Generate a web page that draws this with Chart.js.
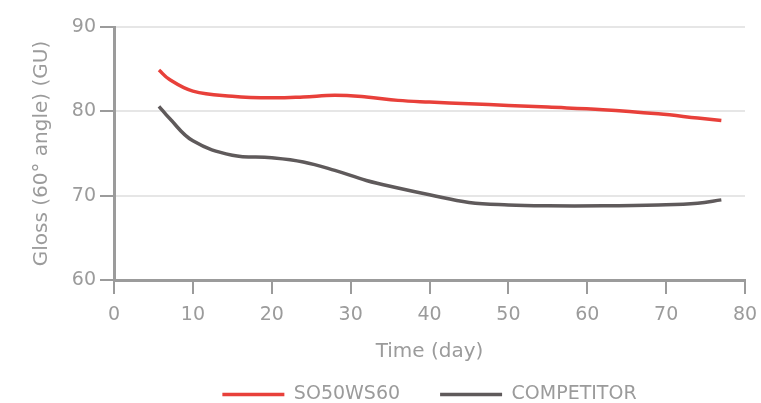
<!DOCTYPE html>
<html>
<head>
<meta charset="utf-8">
<script src="https://cdn.jsdelivr.net/npm/chart.js@4/dist/chart.umd.min.js"></script>
<style>
  html, body { margin: 0; padding: 0; background: #fff; }
  #wrap { width: 761px; height: 403px; position: relative; }
</style>
</head>
<body>
<div id="wrap"><canvas id="glossChart"></canvas></div>
<script>
// === Data ===
const days = [5.7, 7, 10, 15, 20, 24, 28, 32, 36, 40, 45, 50, 55, 62, 69, 74, 77];
const so50ws60 = [84.9, 83.8, 82.4, 81.8, 81.6, 81.7, 81.9, 81.7, 81.3, 81.1, 80.9, 80.7, 80.5, 80.2, 79.7, 79.2, 78.9];
const competitor = [80.6, 79.2, 76.5, 74.8, 74.5, 74.0, 73.0, 71.8, 70.9, 70.1, 69.2, 68.9, 68.8, 68.8, 68.9, 69.1, 69.5];
const seriesNames = ['SO50WS60', 'COMPETITOR'];
const xTitle = 'Time (day)';
const yTitle = 'Gloss (60° angle) (GU)';

const gray = '#9b9b9b';
const font = "'DejaVu Sans', sans-serif";

const toPoints = vals => vals.map((v, i) => ({ x: days[i], y: v }));

// legend sits low with wide gaps between items; keep its box short
const legendHeight = {
  id: 'legendHeight',
  afterInit(chart) {
    const legend = chart.legend;
    const fit = legend.fit;
    legend.fit = function () {
      fit.call(this);
      this.height = 58;
    };
  }
};

new Chart(document.getElementById('glossChart'), {
  type: 'line',
  data: {
    datasets: [
      {
        label: seriesNames[0],
        data: toPoints(so50ws60),
        borderColor: '#e8403a',
        backgroundColor: '#e8403a',
        borderWidth: 3.5,
        pointRadius: 0,
        tension: 0.4
      },
      {
        label: seriesNames[1],
        data: toPoints(competitor),
        borderColor: '#5f5a5b',
        backgroundColor: '#5f5a5b',
        borderWidth: 3.5,
        pointRadius: 0,
        tension: 0.4
      }
    ]
  },
  options: {
    responsive: true,
    maintainAspectRatio: false,
    animation: false,
    layout: { padding: { left: 30, right: 16, top: 27, bottom: 0 } },
    plugins: {
      tooltip: { enabled: false },
      legend: {
        position: 'bottom',
        fullSize: false,
        labels: {
          color: gray,
          font: { family: font, size: 19 },
          usePointStyle: true,
          pointStyle: 'line',
          pointStyleWidth: 62,
          padding: 40
        }
      }
    },
    scales: {
      x: {
        type: 'linear',
        min: 0,
        max: 80,
        afterFit: s => { s.height = 65; s.paddingRight = 4; },
        ticks: { stepSize: 10, color: gray, font: { family: font, size: 19 }, padding: 10 },
        grid: { drawOnChartArea: false, color: gray, tickLength: 14, lineWidth: 2 },
        border: { color: gray, width: 3 },
        title: { display: true, text: xTitle, color: gray, font: { family: font, size: 20 }, padding: { top: 0, bottom: -19 } }
      },
      y: {
        min: 60,
        max: 90,
        afterFit: s => { s.width = 84; },
        ticks: { stepSize: 10, color: gray, font: { family: font, size: 19 }, padding: 4 },
        grid: { color: '#e6e6e6', tickColor: gray, tickLength: 14, lineWidth: 2 },
        border: { color: gray, width: 3 },
        title: { display: true, text: yTitle, color: gray, font: { family: font, size: 20 }, padding: { top: 0, bottom: 4 } }
      }
    }
  },
  plugins: [legendHeight]
});
</script>
</body>
</html>
